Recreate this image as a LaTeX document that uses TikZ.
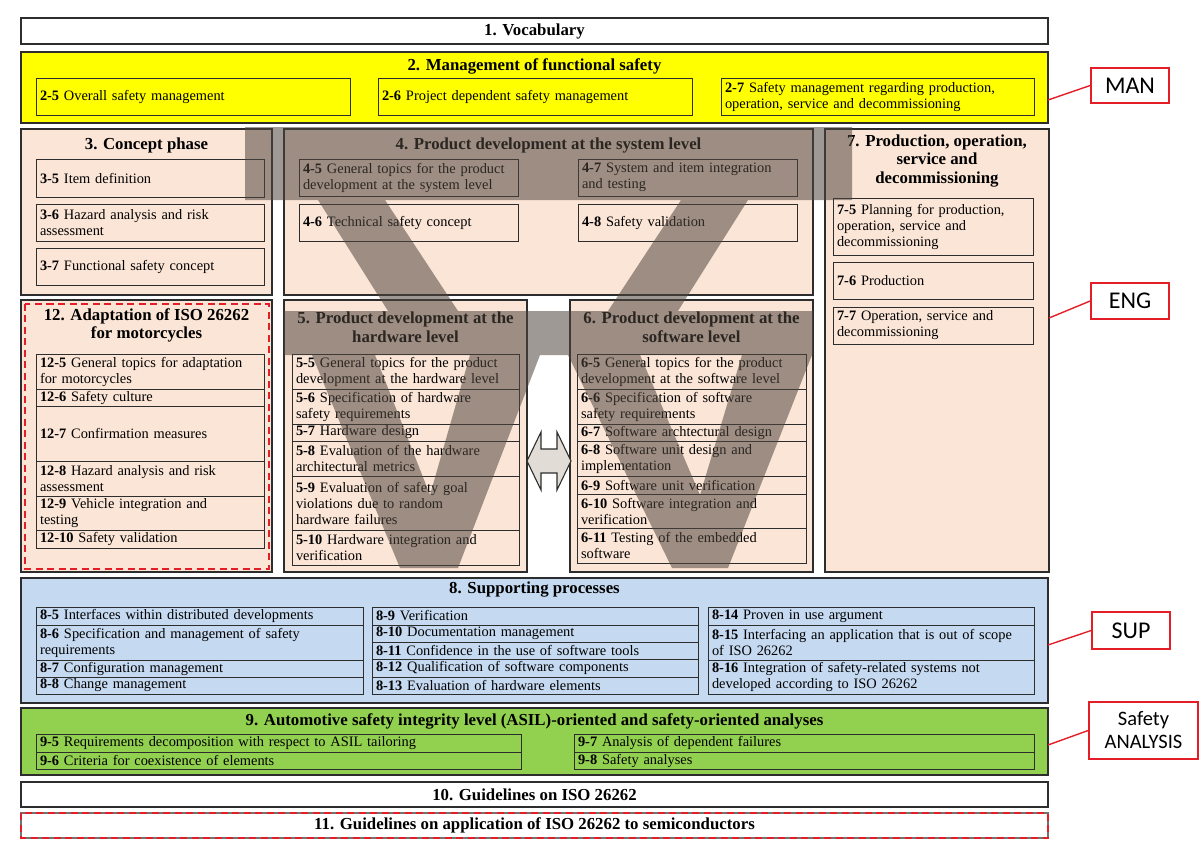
\documentclass[tikz,border=0pt]{standalone}
\usepackage{fontspec}
\setmainfont{Liberation Serif}
\newfontfamily\lblfont{Carlito}
\usetikzlibrary{positioning}

\definecolor{mgmtyellow}{RGB}{255,255,0}
\definecolor{engpeach}{RGB}{251,229,214}
\definecolor{supblue}{RGB}{197,217,241}
\definecolor{anagreen}{RGB}{146,208,80}
\definecolor{vshade}{RGB}{80,70,62}
\definecolor{arrowfill}{RGB}{226,220,214}
\definecolor{lblred}{RGB}{228,30,38}
\definecolor{edge}{RGB}{45,45,45}

\newcommand{\clause}[1]{\textbf{#1}}

\begin{document}
\begin{tikzpicture}[
    x=1pt, y=-1pt,
    font=\fontsize{14.4}{16}\selectfont,
    node distance=0pt,
    part/.style={draw=edge, line width=1.1pt, outer sep=0, inner sep=0, anchor=north west},
    ttl/.style={font=\fontsize{16.8}{18.5}\selectfont\bfseries, align=center, inner sep=0},
    cell/.style={draw=edge, line width=1pt, outer sep=0, inner xsep=4pt, inner ysep=0, align=left, anchor=north west},
    reddash/.style={draw=lblred, line width=2pt, dash pattern=on 7pt off 4.5pt},
    lbl/.style={draw=lblred, line width=1.6pt, fill=white, inner sep=0, align=center,
                font=\lblfont\fontsize{24}{26}\selectfont},
    lbllink/.style={draw=lblred, line width=1.4pt},
  ]
  \useasboundingbox (0,0) rectangle (1200,859);

  % 1. Vocabulary
  \node[part, ttl, minimum width=1027pt, minimum height=26pt] (p1) at (21,18) {1. Vocabulary};

  % 2. Management of functional safety
  \node[part, fill=mgmtyellow, minimum width=1027pt, minimum height=71pt] (p2) at (21,52) {};
  \node[ttl] (t2) at ([yshift=-14pt]p2.north) {2. Management of functional safety};
  \node[cell, text width=306pt, minimum height=36pt] (c25) at (36,79) {\clause{2-5} Overall safety management};
  \node[cell, text width=306pt, minimum height=36pt] (c26) at (378,79) {\clause{2-6} Project dependent safety management};
  \node[cell, text width=305pt, minimum height=36pt] (c27) at (721,79)
    {\clause{2-7} Safety management regarding production,\\operation, service and decommissioning};

  % 3. Concept phase
  \node[part, fill=engpeach, minimum width=251pt, minimum height=166pt] (p3) at (21,129) {};
  \node[ttl] (t3) at ([yshift=-16pt]p3.north) {3. Concept phase};
  \node[cell, text width=220pt, minimum height=38pt] (c35) at (36,159) {\clause{3-5} Item definition};
  \node[cell, text width=220pt, minimum height=37pt] (c36) at (36,204) {\clause{3-6} Hazard analysis and risk\\assessment};
  \node[cell, text width=220pt, minimum height=37pt] (c37) at (36,248) {\clause{3-7} Functional safety concept};

  % 4. System level
  \node[part, fill=engpeach, minimum width=529pt, minimum height=166pt] (p4) at (284,129) {};
  \node[ttl] (t4) at ([yshift=-16pt]p4.north) {4. Product development at the system level};
  \node[cell, text width=211pt, minimum height=37pt] (c45) at (299,159) {\clause{4-5} General topics for the product\\development at the system level};
  \node[cell, text width=211pt, minimum height=37pt] (c46) at (299,204) {\clause{4-6} Technical safety concept};
  \node[cell, text width=211pt, minimum height=37pt] (c47) at (578,159) {\clause{4-7} System and item integration\\and testing};
  \node[cell, text width=211pt, minimum height=37pt] (c48) at (578,204) {\clause{4-8} Safety validation};

  % 7. Production and operation
  \node[part, fill=engpeach, minimum width=224pt, minimum height=443pt] (p7) at (825,129) {};
  \node[ttl] (t7) at ([yshift=-32pt]p7.north) {7. Production, operation,\\service and\\decommissioning};
  \node[cell, text width=192pt, minimum height=57pt] (c75) at (833,198) {\clause{7-5} Planning for production,\\operation, service and\\decommissioning};
  \node[cell, text width=192pt, minimum height=37pt] (c76) at (833,262) {\clause{7-6} Production};
  \node[cell, text width=192pt, minimum height=37pt] (c77) at (833,307) {\clause{7-7} Operation, service and\\decommissioning};

  % 12. Motorcycles
  \node[part, fill=engpeach, minimum width=251pt, minimum height=272pt] (p12) at (21,300) {};
  \draw[reddash] ([shift={(3.5pt,-3.5pt)}]p12.north west) rectangle ([shift={(-3.5pt,3.5pt)}]p12.south east);
  \node[ttl] (t12) at ([yshift=-25.5pt]p12.north) {12. Adaptation of ISO 26262\\for motorcycles};
  \node[cell, text width=220pt, minimum height=35pt] (c125) at (36,354) {\clause{12-5} General topics for adaptation\\for motorcycles};
  \node[cell, text width=220pt, minimum height=17pt, below=of c125] (c126) {\clause{12-6} Safety culture};
  \node[cell, text width=220pt, minimum height=55pt, below=of c126] (c127) {\clause{12-7} Confirmation measures};
  \node[cell, text width=220pt, minimum height=35pt, below=of c127] (c128) {\clause{12-8} Hazard analysis and risk\\assessment};
  \node[cell, text width=220pt, minimum height=34pt, below=of c128] (c129) {\clause{12-9} Vehicle integration and\\testing};
  \node[cell, text width=220pt, minimum height=18pt, below=of c129] (c1210) {\clause{12-10} Safety validation};

  % 5. Hardware level
  \node[part, fill=engpeach, minimum width=243pt, minimum height=272pt] (p5) at (284,300) {};
  \node[ttl] (t5) at ([yshift=-27.5pt]p5.north) {5. Product development at the\\hardware level};
  \node[cell, text width=219pt, minimum height=35pt] (c55) at (292,354) {\clause{5-5} General topics for the product\\development at the hardware level};
  \node[cell, text width=219pt, minimum height=35pt, below=of c55] (c56) {\clause{5-6} Specification of hardware\\safety requirements};
  \node[cell, text width=219pt, minimum height=17pt, below=of c56] (c57) {\clause{5-7} Hardware design};
  \node[cell, text width=219pt, minimum height=35pt, below=of c57] (c58) {\clause{5-8} Evaluation of the hardware\\architectural metrics};
  \node[cell, text width=219pt, minimum height=54pt, below=of c58] (c59) {\clause{5-9} Evaluation of safety goal\\violations due to random\\hardware failures};
  \node[cell, text width=219pt, minimum height=35pt, below=of c59] (c510) {\clause{5-10} Hardware integration and\\verification};

  % 6. Software level
  \node[part, fill=engpeach, minimum width=243pt, minimum height=272pt] (p6) at (570,300) {};
  \node[ttl] (t6) at ([yshift=-27.5pt]p6.north) {6. Product development at the\\software level};
  \node[cell, text width=221pt, minimum height=35pt] (c65) at (577,354) {\clause{6-5} General topics for the product\\development at the software level};
  \node[cell, text width=221pt, minimum height=35pt, below=of c65] (c66) {\clause{6-6} Specification of software\\safety requirements};
  \node[cell, text width=221pt, minimum height=17pt, below=of c66] (c67) {\clause{6-7} Software archtectural design};
  \node[cell, text width=221pt, minimum height=35pt, below=of c67] (c68) {\clause{6-8} Software unit design and\\implementation};
  \node[cell, text width=221pt, minimum height=18pt, below=of c68] (c69) {\clause{6-9} Software unit verification};
  \node[cell, text width=221pt, minimum height=34pt, below=of c69] (c610) {\clause{6-10} Software integration and\\verification};
  \node[cell, text width=221pt, minimum height=35pt, below=of c610] (c611) {\clause{6-11} Testing of the embedded\\software};

  % hardware / software interface arrow
  \draw[edge, line width=1.1pt, fill=arrowfill]
    (527,461) -- (541,432) -- (541,449) -- (557,449) -- (557,432) -- (571,461)
    -- (557,490) -- (557,473) -- (541,473) -- (541,490) -- cycle;

  % 8. Supporting processes
  \node[part, fill=supblue, minimum width=1027pt, minimum height=125pt] (p8) at (21,578) {};
  \node[ttl] (t8) at ([yshift=-12pt]p8.north) {8. Supporting processes};
  \node[cell, text width=319pt, minimum height=18pt] (c85) at (36,607) {\clause{8-5} Interfaces within distributed developments};
  \node[cell, text width=319pt, minimum height=35pt, below=of c85] (c86) {\clause{8-6} Specification and management of safety\\requirements};
  \node[cell, text width=319pt, minimum height=17pt, below=of c86] (c87) {\clause{8-7} Configuration management};
  \node[cell, text width=319pt, minimum height=17pt, below=of c87] (c88) {\clause{8-8} Change management};
  \node[cell, text width=318pt, minimum height=18pt] (c89) at (372,607) {\clause{8-9} Verification};
  \node[cell, text width=318pt, minimum height=17pt, below=of c89] (c810) {\clause{8-10} Documentation management};
  \node[cell, text width=318pt, minimum height=17pt, below=of c810] (c811) {\clause{8-11} Confidence in the use of software tools};
  \node[cell, text width=318pt, minimum height=18pt, below=of c811] (c812) {\clause{8-12} Qualification of software components};
  \node[cell, text width=318pt, minimum height=17pt, below=of c812] (c813) {\clause{8-13} Evaluation of hardware elements};
  \node[cell, text width=318pt, minimum height=18pt] (c814) at (708,607) {\clause{8-14} Proven in use argument};
  \node[cell, text width=318pt, minimum height=35pt, below=of c814] (c815) {\clause{8-15} Interfacing an application that is out of scope\\of ISO 26262};
  \node[cell, text width=318pt, minimum height=34pt, below=of c815] (c816) {\clause{8-16} Integration of safety-related systems not\\developed according to ISO 26262};

  % 9. ASIL and safety analyses
  \node[part, fill=anagreen, minimum width=1027pt, minimum height=67pt] (p9) at (21,708) {};
  \node[ttl] (t9) at ([yshift=-13pt]p9.north) {9. Automotive safety integrity level (ASIL)-oriented and safety-oriented analyses};
  \node[cell, text width=477pt, minimum height=18pt] (c95) at (36,734) {\clause{9-5} Requirements decomposition with respect to ASIL tailoring};
  \node[cell, text width=477pt, minimum height=17pt, below=of c95] (c96) {\clause{9-6} Criteria for coexistence of elements};
  \node[cell, text width=452pt, minimum height=18pt] (c97) at (574,734) {\clause{9-7} Analysis of dependent failures};
  \node[cell, text width=452pt, minimum height=17pt, below=of c97] (c98) {\clause{9-8} Safety analyses};

  % 10. / 11. Guidelines
  \node[part, ttl, minimum width=1027pt, minimum height=25pt] (p10) at (21,782) {10. Guidelines on ISO 26262};
  \node[part, ttl, draw=black!55, minimum width=1027pt, minimum height=25pt] (p11) at (21,813)
    {11. Guidelines on application of ISO 26262 to semiconductors};
  \draw[reddash] (p11.north west) rectangle (p11.south east);

  % V-model shading
  \fill[vshade, fill opacity=.55]
    (245,127) -- (852,127) -- (852,200) -- (245,200) -- cycle
    (318,200) -- (385,200) -- (458,311) -- (388,311) -- cycle
    (681,200) -- (748,200) -- (678,311) -- (608,311) -- cycle
    (284,311) -- (813,311) -- (813,355) -- (284,355) -- cycle
    (312,355) -- (375,355) -- (430,495) -- (470,355) -- (540,355) -- (458,568) -- (400,568) -- cycle
    (568,355) -- (640,355) -- (700,495) -- (742,355) -- (812,355) -- (728,568) -- (672,568) -- cycle;

  % part group labels
  \node[lbl, minimum width=78pt, minimum height=35pt] (man) at (1130,85.5) {MAN};
  \node[lbl, minimum width=78pt, minimum height=36pt] (eng) at (1130,301) {ENG};
  \node[lbl, minimum width=78pt, minimum height=37pt] (sup) at (1131,630.5) {SUP};
  \node[lbl, font=\lblfont\fontsize{20.5}{23}\selectfont, minimum width=109pt, minimum height=57pt] (ana) at (1143.5,730.5) {Safety\\ANALYSIS};

  \draw[lbllink] ([yshift=-48pt]p2.north east) -- (man.west);
  \draw[lbllink] ([yshift=-189pt]p7.north east) -- (eng.west);
  \draw[lbllink] ([yshift=-67pt]p8.north east) -- (sup.west);
  \draw[lbllink] ([yshift=-37pt]p9.north east) -- (ana.west);
\end{tikzpicture}
\end{document}
